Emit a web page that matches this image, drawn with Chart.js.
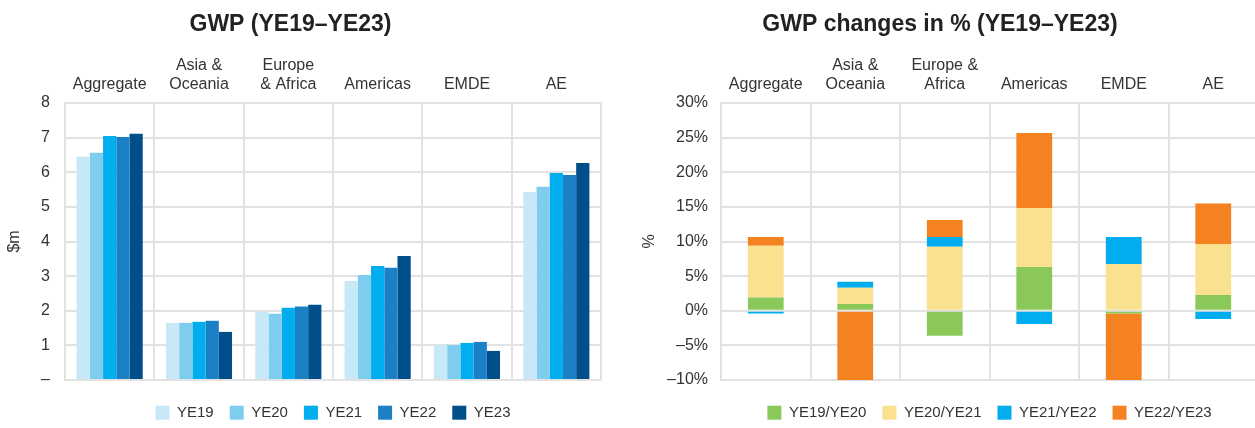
<!DOCTYPE html>
<html>
<head>
<meta charset="utf-8">
<script src="https://cdn.jsdelivr.net/npm/chart.js@4.4.1/dist/chart.umd.min.js"></script>
<style>
  body { margin: 0; background: #fff; overflow: hidden; }
  #wrap { position: relative; width: 1255px; height: 428px; overflow: hidden; }
  #gwp { position: absolute; left: -20px; top: 0; }
  #chg { position: absolute; left: 622px; top: 0; }
</style>
</head>
<body>
<div id="wrap">
  <canvas id="gwp" width="645" height="428"></canvas>
  <canvas id="chg" width="637" height="428"></canvas>
</div>
<script>
// categories
const regionsGwp = ['Aggregate', ['Asia &', 'Oceania'], ['Europe', '& Africa'], 'Americas', 'EMDE', 'AE'];
const regionsChg = ['Aggregate', ['Asia &', 'Oceania'], ['Europe &', 'Africa'], 'Americas', 'EMDE', 'AE'];

// GWP, $m
const ye19 = [6.45, 1.65, 1.97, 2.86, 1.01, 5.43];
const ye20 = [6.56, 1.65, 1.91, 3.03, 1.01, 5.58];
const ye21 = [7.05, 1.68, 2.09, 3.29, 1.07, 5.98];
const ye22 = [7.02, 1.71, 2.12, 3.24, 1.10, 5.92];
const ye23 = [7.11, 1.39, 2.17, 3.58, 0.84, 6.27];

// year-on-year changes, %
const chg1920 = [1.9, 0.97, -3.6, 6.3, -0.4, 2.27];
const chg2021 = [7.5, 2.36, 9.25, 8.55, 6.75, 7.37];
const chg2122 = [-0.4, 0.87, 1.4, -1.9, 3.9, -1.2];
const chg2223 = [1.25, -11, 2.45, 10.8, -11, 5.86];

const txt = '#333';
const gridCol = '#e2e2e2';
Chart.defaults.font.family = "'Liberation Sans', Arial, Helvetica, sans-serif";
Chart.defaults.font.size = 16;
Chart.defaults.color = txt;

// keeps the legend band a fixed height so the plot bottom lands where it should
const legendBand = {
  id: 'legendBand',
  beforeInit(chart) {
    const fit = chart.legend.fit;
    chart.legend.fit = function () {
      fit.call(this);
      this.height = 48;
    };
  }
};

function baseOptions(title, yTitle, yWidth, yTitlePad) {
  return {
    responsive: false,
    animation: false,
    layout: { padding: { right: 0, bottom: 0 } },
    plugins: {
      title: {
        display: true,
        text: title,
        color: '#222',
        font: { size: 23, weight: 'bold' },
        padding: { top: 11, bottom: 0 }
      },
      legend: {
        position: 'bottom',
        fullSize: false,
        title: { display: true, text: '', font: { size: 1 }, padding: { top: 8, bottom: 0 } },
        labels: { boxWidth: 14, boxHeight: 14, padding: 16, color: txt, font: { size: 15 } }
      },
      tooltip: { enabled: false }
    },
    scales: {
      x: {
        position: 'top',
        grid: { color: gridCol, lineWidth: 2, drawTicks: false },
        border: { color: gridCol, width: 2 },
        ticks: { padding: 9, maxRotation: 0, autoSkip: false, color: txt, font: { size: 16 } },
        afterFit: s => { s.height = 64.4; }
      },
      y: {
        grid: { color: gridCol, lineWidth: 2, drawTicks: false },
        border: { color: gridCol, width: 2 },
        title: { display: true, text: yTitle, color: txt, font: { size: 16 }, padding: yTitlePad },
        afterFit: s => { s.width = yWidth; }
      }
    }
  };
}

// left: GWP levels
const gwpOpts = baseOptions('GWP (YE19–YE23)', '$m', 85, 25);
gwpOpts.scales.y.min = 0;
gwpOpts.scales.y.max = 8;
gwpOpts.scales.y.ticks = {
  stepSize: 1, padding: 15, color: txt, font: { size: 16 },
  callback: v => (v === 0 ? '–' : v)
};
gwpOpts.layout.padding.right = 24;

new Chart(document.getElementById('gwp'), {
  type: 'bar',
  data: {
    labels: regionsGwp,
    datasets: [
      { label: 'YE19', data: ye19, backgroundColor: '#c6e8f7' },
      { label: 'YE20', data: ye20, backgroundColor: '#7fcdee' },
      { label: 'YE21', data: ye21, backgroundColor: '#00adee' },
      { label: 'YE22', data: ye22, backgroundColor: '#1b80c4' },
      { label: 'YE23', data: ye23, backgroundColor: '#004f8b' }
    ].map(d => Object.assign(d, { categoryPercentage: 0.74, barPercentage: 1.0 }))
  },
  options: gwpOpts,
  plugins: [legendBand]
});

// right: % changes, stacked
const chgOpts = baseOptions('GWP changes in % (YE19–YE23)', '%', 99, 18);
chgOpts.scales.x.stacked = true;
chgOpts.scales.y.stacked = true;
chgOpts.scales.y.min = -10;
chgOpts.scales.y.max = 30;
chgOpts.scales.y.ticks = {
  stepSize: 5, padding: 13, color: txt, font: { size: 16 },
  callback: v => (v < 0 ? '–' + Math.abs(v) : v) + '%'
};
chgOpts.layout.padding.right = 1;

new Chart(document.getElementById('chg'), {
  type: 'bar',
  data: {
    labels: regionsChg,
    datasets: [
      { label: 'YE19/YE20', data: chg1920, backgroundColor: '#8bc85a' },
      { label: 'YE20/YE21', data: chg2021, backgroundColor: '#f9e18f' },
      { label: 'YE21/YE22', data: chg2122, backgroundColor: '#00aeef' },
      { label: 'YE22/YE23', data: chg2223, backgroundColor: '#f58220' }
    ].map(d => Object.assign(d, { categoryPercentage: 0.4, barPercentage: 1.0 }))
  },
  options: chgOpts,
  plugins: [legendBand]
});
</script>
</body>
</html>
